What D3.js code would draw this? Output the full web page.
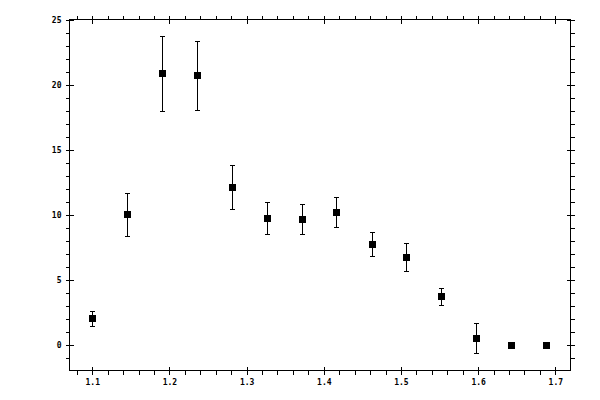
<!DOCTYPE html>
<html>
<head>
<meta charset="utf-8">
<script src="https://cdn.jsdelivr.net/npm/d3@7"></script>
<style>
  html, body { margin: 0; padding: 0; background: #fff; }
  svg text { font-family: "DejaVu Sans Mono", monospace; font-size: 8px; font-weight: bold; fill: #000; }
</style>
</head>
<body>
<div id="chart"></div>
<script>
// Data
const xValues = [1.100, 1.145, 1.191, 1.236, 1.281, 1.327, 1.372, 1.416, 1.462, 1.507, 1.552, 1.597, 1.643, 1.688];
const yValues = [2.05, 10.05, 20.9, 20.75, 12.13, 9.74, 9.67, 10.21, 7.74, 6.74, 3.74, 0.51, 0, 0];
const yErrors = [0.6, 1.68, 2.87, 2.64, 1.69, 1.23, 1.16, 1.15, 0.92, 1.08, 0.65, 1.15, 0, 0];

const xMajorTicks = [1.1, 1.2, 1.3, 1.4, 1.5, 1.6, 1.7];
const xMinorTicks = d3.range(54, 86).map((d) => d / 50).filter((d) => Math.round(d * 50) % 5 !== 0);
const yMajorTicks = [0, 5, 10, 15, 20, 25];
const yMinorTicks = d3.range(-1, 26).filter((d) => d % 5 !== 0);

const width = 600;
const height = 400;
const plot = { left: 69.5, right: 570.5, top: 19.5, bottom: 370.5 };

const svg = d3
  .select("#chart")
  .append("svg")
  .attr("width", width)
  .attr("height", height);

const xScale = d3.scaleLinear().domain([1.0705, 1.7197]).range([plot.left, plot.right]);
const yScale = d3.scaleLinear().domain([-1.96, 25.04]).range([plot.bottom, plot.top]);

const fmtX = d3.format(".1f");
const fmtY = d3.format("d");

function addAxis(axis, transform, showLabels) {
  const g = svg
    .append("g")
    .attr("transform", transform)
    .attr("shape-rendering", "crispEdges")
    .call(axis);
  g.select(".domain").remove();
  g.selectAll("line").attr("stroke", "#000");
  if (!showLabels) g.selectAll("text").remove();
  else g.selectAll("text").attr("font-family", null).attr("font-size", null);
  return g;
}

// Bottom axis: crossing major ticks, outward minor ticks
addAxis(d3.axisBottom(xScale).tickValues(xMajorTicks).tickSize(4).tickPadding(5).tickFormat(fmtX), `translate(0,${plot.bottom})`, true);
addAxis(d3.axisBottom(xScale).tickValues(xMajorTicks).tickSize(-4), `translate(0,${plot.bottom})`, false);
addAxis(d3.axisBottom(xScale).tickValues(xMinorTicks).tickSize(4), `translate(0,${plot.bottom})`, false);

// Top axis
addAxis(d3.axisTop(xScale).tickValues(xMajorTicks).tickSize(4), `translate(0,${plot.top})`, false);
addAxis(d3.axisTop(xScale).tickValues(xMajorTicks).tickSize(-4), `translate(0,${plot.top})`, false);
addAxis(d3.axisTop(xScale).tickValues(xMinorTicks).tickSize(4), `translate(0,${plot.top})`, false);

// Left axis
addAxis(d3.axisLeft(yScale).tickValues(yMajorTicks).tickSize(4).tickPadding(4).tickFormat(fmtY), `translate(${plot.left},0)`, true);
addAxis(d3.axisLeft(yScale).tickValues(yMajorTicks).tickSize(-4), `translate(${plot.left},0)`, false);
addAxis(d3.axisLeft(yScale).tickValues(yMinorTicks).tickSize(4), `translate(${plot.left},0)`, false);

// Right axis
addAxis(d3.axisRight(yScale).tickValues(yMajorTicks).tickSize(4), `translate(${plot.right},0)`, false);
addAxis(d3.axisRight(yScale).tickValues(yMajorTicks).tickSize(-4), `translate(${plot.right},0)`, false);
addAxis(d3.axisRight(yScale).tickValues(yMinorTicks).tickSize(4), `translate(${plot.right},0)`, false);

// Frame
svg
  .append("rect")
  .attr("x", plot.left)
  .attr("y", plot.top)
  .attr("width", plot.right - plot.left)
  .attr("height", plot.bottom - plot.top)
  .attr("fill", "none")
  .attr("stroke", "#000")
  .attr("shape-rendering", "crispEdges");

const points = xValues.map((x, i) => ({ x: x, y: yValues[i], e: yErrors[i] }));
const withErr = points.filter((d) => d.e > 0);

const marks = svg.append("g").attr("shape-rendering", "crispEdges");

// Error bars
marks
  .selectAll(".err")
  .data(withErr)
  .enter()
  .append("line")
  .attr("class", "err")
  .attr("x1", (d) => Math.round(xScale(d.x)) + 0.5)
  .attr("x2", (d) => Math.round(xScale(d.x)) + 0.5)
  .attr("y1", (d) => yScale(d.y - d.e))
  .attr("y2", (d) => yScale(d.y + d.e))
  .attr("stroke", "#000")
  .attr("stroke-width", 1);

const capHalf = 2.5;
["top", "bottom"].forEach((side) => {
  marks
    .selectAll(".cap-" + side)
    .data(withErr)
    .enter()
    .append("line")
    .attr("class", "cap-" + side)
    .attr("x1", (d) => Math.round(xScale(d.x)) + 0.5 - capHalf)
    .attr("x2", (d) => Math.round(xScale(d.x)) + 0.5 + capHalf)
    .attr("y1", (d) => Math.round(yScale(side === "top" ? d.y + d.e : d.y - d.e)) + 0.5)
    .attr("y2", (d) => Math.round(yScale(side === "top" ? d.y + d.e : d.y - d.e)) + 0.5)
    .attr("stroke", "#000")
    .attr("stroke-width", 1);
});

// Square markers
const sq = 7;
marks
  .selectAll(".pt")
  .data(points)
  .enter()
  .append("rect")
  .attr("class", "pt")
  .attr("x", (d) => Math.round(xScale(d.x)) + 0.5 - sq / 2)
  .attr("y", (d) => Math.round(yScale(d.y)) + 0.5 - sq / 2)
  .attr("width", sq)
  .attr("height", sq)
  .attr("fill", "#000");
</script>
</body>
</html>
